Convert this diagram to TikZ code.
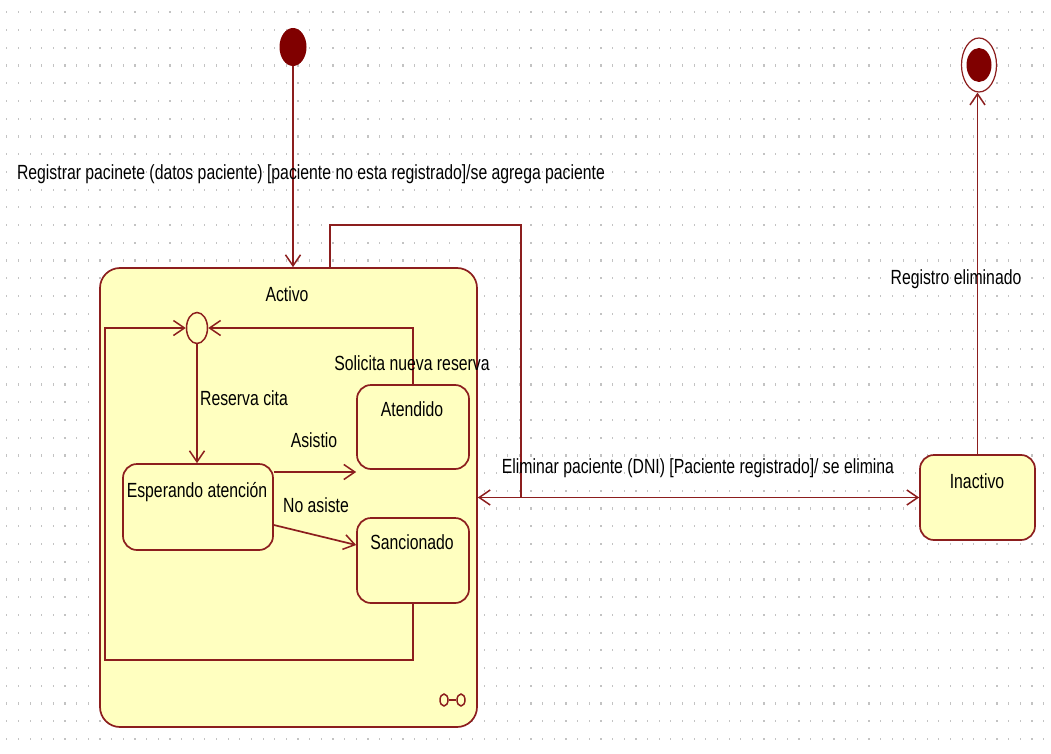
\documentclass[tikz,border=0pt]{standalone}
\usepackage{fontspec}
\newfontfamily\umlfont[FakeStretch=0.77]{Liberation Sans}
\usetikzlibrary{arrows.meta,shapes.geometric,calc}
\definecolor{umlline}{RGB}{140,30,30}
\definecolor{umlfill}{RGB}{255,255,192}
\definecolor{umldot}{RGB}{128,0,0}
\definecolor{gridc}{RGB}{195,195,195}
\begin{document}
\begin{tikzpicture}[x=1pt,y=-1pt,
  stbox/.style={draw=umlline, fill=umlfill, line width=1.7pt, rounded corners=14pt, inner sep=0pt},
  txt/.style={font=\umlfont\fontsize{20.5}{24}\selectfont, inner sep=0pt, text=black, text height=14.7pt, text depth=0pt},
  tr/.style={draw=umlline, line width=1.7pt, -{Straight Barb[length=11pt,width=15pt,line width=1.5pt]}},
  ln/.style={draw=umlline, line width=1.7pt}]
\useasboundingbox (0,0) rectangle (1051,754);
\fill[white] (0,0) rectangle (1051,754);
% dotted grid
\foreach \i in {0,...,89}{
  \foreach \j in {0,...,42}{
    \fill[gridc] ({6.2+\i*11.65},{11.3+\j*17.72}) rectangle ++(1.2,2.2);
  }
}
% states
\node[stbox, rounded corners=20pt, minimum width=377pt, minimum height=459pt] (act) at (288.5,497.5) {};
\node[txt] (actl) at (287,294) {Activo};
\node[stbox, minimum width=112pt, minimum height=84pt] (aten) at (413,427) {};
\node[txt] (atenl) at (412,409) {Atendido};
\node[stbox, minimum width=112pt, minimum height=85pt] (sanc) at (413,560.5) {};
\node[txt] (sancl) at (412,542) {Sancionado};
\node[stbox, minimum width=150pt, minimum height=86pt] (esp) at (198,507) {};
\node[txt] (espl) at (197,490) {Esperando atención};
\node[stbox, minimum width=115pt, minimum height=85pt] (inac) at (977.5,497.5) {};
\node[txt] (inacl) at (977,481) {Inactivo};
% pseudo states
\node[ellipse, fill=umldot, minimum width=27pt, minimum height=38pt, inner sep=0pt] (ini) at (293,47) {};
\node[ellipse, draw=umlline, fill=white, line width=1.2pt, minimum width=35pt, minimum height=54pt, inner sep=0pt] (fin) at (979,65) {};
\node[ellipse, fill=umldot, minimum width=25pt, minimum height=34pt, inner sep=0pt] (finin) at (979,65) {};
\node[ellipse, draw=umlline, fill=umlfill, line width=1.5pt, minimum width=21pt, minimum height=31pt, inner sep=0pt] (junc) at (197,328) {};
% composite icon
\node[ellipse, draw=umlline, line width=1.5pt, minimum width=8pt, minimum height=12pt, inner sep=0pt] (ic1) at (444,700) {};
\node[ellipse, draw=umlline, line width=1.5pt, minimum width=8pt, minimum height=12pt, inner sep=0pt] (ic2) at (461,700) {};
\draw[ln] (ic1) -- (ic2);
% bend coordinates
\coordinate (k1) at (521,225);
\coordinate (lc) at (105,660);
\coordinate (yAs) at (0,472);
\coordinate (yNa1) at (0,525);
\coordinate (yNa2) at (0,545);
% transitions
\draw[tr] (ini) -- (ini |- act.north);
\draw[tr] ($(act.north)+(41.5,0)$) |- (k1) |- (inac.west);
\draw[tr] (inac.west) -- (act.east |- inac.west);
\draw[tr] (inac.north) -- (inac.north |- fin.south);
\draw[tr] (junc.south) -- (junc.south |- esp.north);
\draw[tr] (esp.east |- yAs) -- (aten.west |- yAs);
\draw[tr] (esp.east |- yNa1) -- (sanc.west |- yNa2);
\draw[tr] (aten.north) |- (junc.east);
\draw[tr] (sanc.south) |- (lc) |- (junc.west);
% labels
\node[txt] (lreg) at (311,172) {Registrar pacinete (datos paciente) [paciente no esta registrado]/se agrega paciente};
\node[txt] (lsol) at (412,363) {Solicita nueva reserva};
\node[txt] (lres) at (244,398) {Reserva cita};
\node[txt] (lasi) at (314,440) {Asistio};
\node[txt] (lnoa) at (316,505) {No asiste};
\node[txt] (leli) at (698,466) {Eliminar paciente (DNI) [Paciente registrado]/ se elimina};
\node[txt] (lrgel) at (956,277) {Registro eliminado};
\end{tikzpicture}
\end{document}
